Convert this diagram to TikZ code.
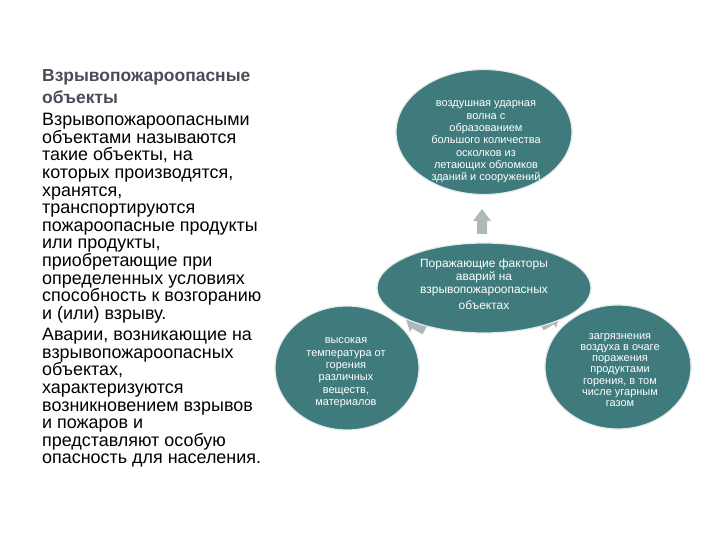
\documentclass[tikz,border=0pt]{standalone}
\usepackage{fontspec}
\setmainfont{Liberation Sans}
\usetikzlibrary{shapes.geometric}
\definecolor{teal1}{HTML}{3F7B7D}
\definecolor{arrgray}{HTML}{AEB8B8}
\definecolor{titlegray}{HTML}{4B4B57}
\definecolor{edge}{HTML}{E4EAEA}
\tikzset{
  blob/.style={ellipse, fill=teal1, draw=edge, line width=1.2pt, inner sep=0pt},
  blobtext/.style={text=white, align=center, inner sep=0pt, font=\fontsize{11}{12.4}\selectfont},
  leftpara/.style={anchor=north west, align=left, inner sep=0pt, text=black, font=\fontsize{18}{17.7}\selectfont},
  blockarrow/.style={fill=arrgray, draw=none}
}
\begin{document}
\begin{tikzpicture}[x=1bp,y=-1bp]
\useasboundingbox (0,0) rectangle (720,540);
% left text
\node[anchor=north west, align=left, inner sep=0pt, text=titlegray, font=\fontsize{17.5}{22.5}\selectfont\bfseries] (title) at (42,69)
 {Взрывопожароопасные\\объекты};
\node[leftpara] (p1) at (42,113)
 {Взрывопожароопасными\\объектами называются\\такие объекты, на\\которых производятся,\\хранятся,\\транспортируются\\пожароопасные продукты\\или продукты,\\приобретающие при\\определенных условиях\\способность к возгоранию\\и (или) взрыву.};
\node[leftpara] (p2) at (42,328)
 {Аварии, возникающие на\\взрывопожароопасных\\объектах,\\характеризуются\\возникновением взрывов\\и пожаров и\\представляют особую\\опасность для населения.};
% arrows
\fill[blockarrow] (477,234) -- (477,221) -- (473,221) -- (482,209) -- (491,221) -- (487,221) -- (487,234) -- cycle;
\begin{scope}[shift={(418,326)}, rotate=150]
\fill[blockarrow] (-8,-5) -- (4,-5) -- (4,-9) -- (14,0) -- (4,9) -- (4,5) -- (-8,5) -- cycle;
\end{scope}
\begin{scope}[shift={(548,322)}, rotate=30]
\fill[blockarrow] (-8,-5) -- (4,-5) -- (4,-9) -- (14,0) -- (4,9) -- (4,5) -- (-8,5) -- cycle;
\end{scope}
% outer shapes
\node[blob, minimum width=176bp, minimum height=125bp] (top) at (484,132) {};
\node[blobtext] (topt) at (486,142)
 {воздушная ударная\\волна с\\образованием\\большого количества\\осколков из\\летающих обломков\\зданий и сооружений};
\node[blob, minimum width=144bp, minimum height=124bp] (left) at (347,368) {};
\node[blobtext] (leftt) at (346,373)
 {высокая\\температура от\\горения\\различных\\веществ,\\материалов};
\node[blob, minimum width=146bp, minimum height=124bp] (right) at (618,367) {};
\node[blobtext, font=\fontsize{11}{11.3}\selectfont] (rightt) at (620,370)
 {загрязнения\\воздуха в очаге\\поражения\\продуктами\\горения, в том\\числе угарным\\газом};
\node[blob, minimum width=214bp, minimum height=90bp] (mid) at (484,288) {};
\node[blobtext, font=\fontsize{12}{13}\selectfont, anchor=north] (midt) at (484,259)
 {Поражающие факторы\\аварий на\\взрывопожароопасных\\[3pt]объектах};
\end{tikzpicture}
\end{document}
